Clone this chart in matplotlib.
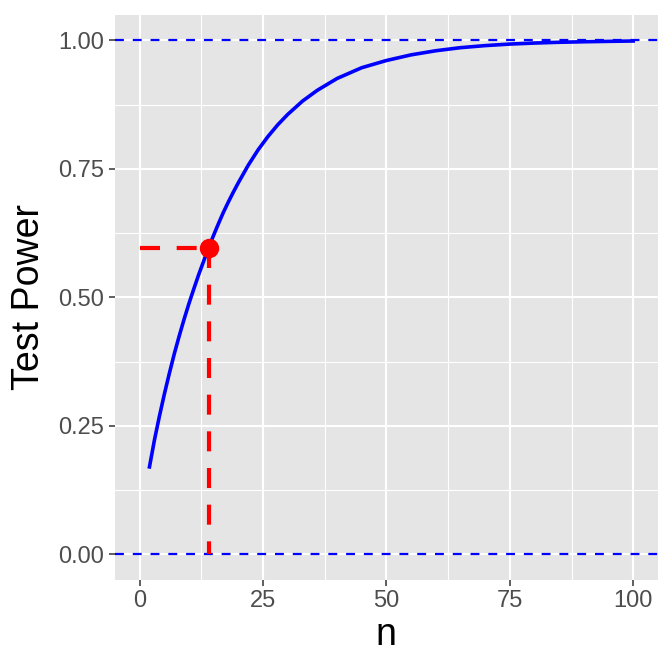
import matplotlib
matplotlib.use("Agg")
import matplotlib.pyplot as plt

# power curve
n = [2, 3, 4, 5, 6, 7, 8, 9, 10, 11, 12, 13, 14, 15, 16, 17, 18, 19, 20,
     22, 24, 26, 28, 30, 33, 36, 40, 45, 50, 55, 60, 65, 70, 75, 80, 85,
     90, 95, 100]
power = [0.170, 0.222, 0.268, 0.311, 0.351, 0.389, 0.424, 0.457, 0.488,
         0.517, 0.545, 0.571, 0.597, 0.621, 0.644, 0.666, 0.686, 0.705,
         0.723, 0.757, 0.787, 0.813, 0.836, 0.856, 0.882, 0.903, 0.926,
         0.947, 0.961, 0.972, 0.980, 0.986, 0.990, 0.993, 0.995, 0.9965,
         0.9975, 0.9983, 0.999]
n_sel = 14
power_sel = 0.597
ref_levels = [0.0, 1.0]
xticks = [0, 25, 50, 75, 100]
yticks = [0.0, 0.25, 0.5, 0.75, 1.0]
ytick_labels = ["0.00", "0.25", "0.50", "0.75", "1.00"]

plt.rcParams['font.family'] = ['Liberation Sans', 'DejaVu Sans']

fig = plt.figure(figsize=(6.72, 6.72), dpi=100)
ax = fig.add_axes([0.171, 0.137, 0.808, 0.841])
ax.set_facecolor("#E5E5E5")
for s in ax.spines.values():
    s.set_visible(False)

ax.set_xlim(-5, 105)
ax.set_ylim(-0.05, 1.05)
ax.set_xticks(xticks)
ax.set_yticks(yticks)
ax.set_yticklabels(ytick_labels)
ax.set_xticks([12.5, 37.5, 62.5, 87.5], minor=True)
ax.set_yticks([0.125, 0.375, 0.625, 0.875], minor=True)
ax.grid(which="major", color="white", lw=1.5)
ax.grid(which="minor", color="white", lw=0.8)
ax.set_axisbelow(True)
ax.tick_params(which="major", length=4.5, width=1.1, color="#333333",
               labelsize=17, labelcolor="#4D4D4D", pad=3)
ax.tick_params(which="minor", length=0)

for lv in ref_levels:
    ax.axhline(lv, color="blue", lw=1.6, dashes=(4, 4), zorder=2)

ax.plot(n, power, color="blue", lw=2.6, zorder=3, solid_joinstyle="round")

ax.plot([0, n_sel], [power_sel, power_sel], color="red", lw=3,
        dashes=(4.8, 4), zorder=4)
ax.plot([n_sel, n_sel], [power_sel, 0], color="red", lw=3,
        dashes=(4.8, 4), zorder=4)
ax.plot([n_sel], [power_sel], "o", color="red", ms=13, zorder=5)

ax.set_xlabel("n", fontsize=27, labelpad=3)
ax.set_ylabel("Test Power", fontsize=27, labelpad=8)

fig.savefig("out.png", dpi=100)
